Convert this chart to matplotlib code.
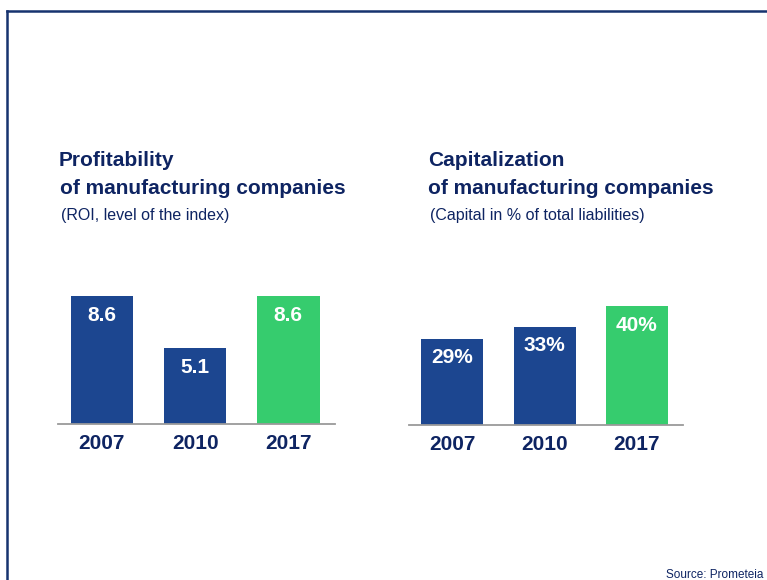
import matplotlib.pyplot as plt
from matplotlib.lines import Line2D

# data
years = ['2007', '2010', '2017']
roi = [8.6, 5.1, 8.6]
roi_labels = ['8.6', '5.1', '8.6']
capital = [29, 33, 40]
capital_labels = ['29%', '33%', '40%']

W, H = 767, 580
navy = '#0e2462'
blue = '#1c4690'
green = '#36cc6e'
bold_font = ['Liberation Sans Narrow', 'Liberation Sans', 'DejaVu Sans']
title_font = ['Liberation Sans', 'DejaVu Sans']


def fx(x):
    return x / W


def fy(y):
    return 1 - y / H


fig = plt.figure(figsize=(W / 100, H / 100), dpi=100)

# frame around the slide (runs off to the right and bottom)
fig.add_artist(Line2D([fx(7), fx(7)], [0, fy(11)], color='#17336f', lw=1.8))
fig.add_artist(Line2D([fx(7), 1], [fy(11), fy(11)], color='#17336f', lw=1.8))


def bar_panel(rect, values, labels, ymax):
    ax = fig.add_axes(rect)
    colors = [blue, blue, green]
    x = range(len(values))
    ax.bar(x, values, width=0.67, color=colors)
    ax.set_xlim(-0.47, 2.5)
    ax.set_ylim(0, ymax)
    for s in ['top', 'left', 'right']:
        ax.spines[s].set_visible(False)
    ax.spines['bottom'].set_color('#9a9a9a')
    ax.spines['bottom'].set_linewidth(1.3)
    ax.set_yticks([])
    ax.set_xticks(list(x))
    ax.set_xticklabels(years, fontsize=15, fontweight='bold', color=navy,
                       family=bold_font)
    ax.tick_params(axis='x', length=0, pad=7)
    for i, v in enumerate(values):
        ax.annotate(labels[i], (i, v), xytext=(0, -7), textcoords='offset points',
                    ha='center', va='top', color='white', fontsize=15,
                    fontweight='bold', family=bold_font)
    ax.patch.set_alpha(0)
    return ax


bar_panel([fx(58), fy(424), 277 / W, 149 / H], roi, roi_labels, 10)
bar_panel([fx(409), fy(425), 274 / W, 149 / H], capital, capital_labels, 50)

# titles
fig.text(fx(59), fy(166), 'Profitability', fontsize=15, fontweight='bold',
         color=navy, family=title_font, va='baseline')
fig.text(fx(60), fy(194), 'of manufacturing companies', fontsize=15,
         fontweight='bold', color=navy, family=title_font, va='baseline')
fig.text(fx(61), fy(220), '(ROI, level of the index)', fontsize=11.5,
         color=navy, family=title_font, va='baseline')

fig.text(fx(428), fy(166), 'Capitalization', fontsize=15, fontweight='bold',
         color=navy, family=title_font, va='baseline')
fig.text(fx(428), fy(194), 'of manufacturing companies', fontsize=15,
         fontweight='bold', color=navy, family=title_font, va='baseline')
fig.text(fx(430), fy(220), '(Capital in % of total liabilities)', fontsize=11.5,
         color=navy, family=title_font, va='baseline')

# source note, pulled in slightly so it stays inside the picture
fig.text(fx(763), fy(578), 'Source: Prometeia', fontsize=8.5, color=navy,
         family=title_font, va='baseline', ha='right')

fig.savefig('out.png', dpi=100)
